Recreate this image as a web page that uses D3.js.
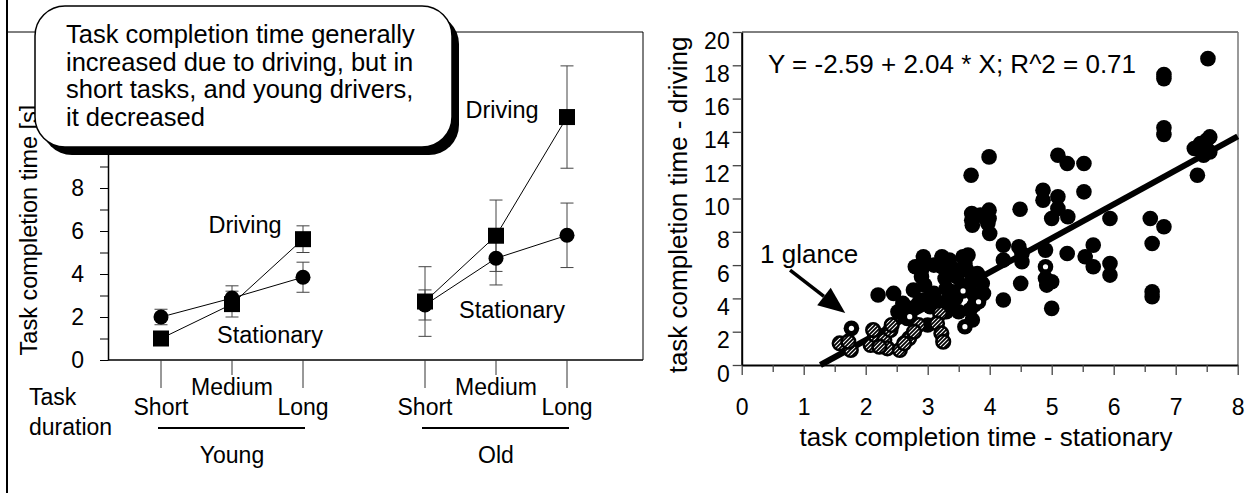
<!DOCTYPE html>
<html>
<head>
<meta charset="utf-8">
<script src="https://cdn.jsdelivr.net/npm/d3@7"></script>
<style>
body { margin: 0; background: #fff; }
text { font-family: "Liberation Sans", Arial, Helvetica, sans-serif; fill: #000; }
</style>
</head>
<body>
<svg id="chart" width="1253" height="493"></svg>
<script>
// ---- left chart: mean task completion time [s] and error bars ----
var ageGroups = ["Young", "Old"];
var durations = ["Short", "Medium", "Long"];
var youngDriving = [1.0, 2.6, 5.62];
var youngDrivingErr = [0.3, 0.6, 0.62];
var youngStationary = [2.0, 2.88, 3.85];
var youngStationaryErr = [0.36, 0.57, 0.7];
var oldDriving = [2.72, 5.78, 11.3];
var oldDrivingErr = [1.62, 1.66, 2.38];
var oldStationary = [2.56, 4.73, 5.8];
var oldStationaryErr = [0.7, 1.24, 1.5];
var leftYTicks = [0, 1, 2, 3, 4, 5, 6, 7, 8, 9, 10, 11, 12, 13, 14];
var leftYLabels = [0, 2, 4, 6, 8];   // higher labels sit under the callout

var calloutLines = ["Task completion time generally",
  "increased due to driving, but in",
  "short tasks, and young drivers,",
  "it decreased"];

// ---- right chart: driving vs stationary times ----
var rightXTicks = [0, 0.5, 1, 1.5, 2, 2.5, 3, 3.5, 4, 4.5, 5, 5.5, 6, 6.5, 7, 7.5, 8];
var rightYTicks = [0, 2, 4, 6, 8, 10, 12, 14, 16, 18, 20];
var regIntercept = -2.59, regSlope = 2.04;

var blackPts = [
  [2.2, 4.2], [2.45, 4.3], [2.52, 3.2], [2.67, 2.8], [2.77, 4.5], [2.85, 3.7], [2.93, 3.9],
  [2.6, 3.7], [2.75, 3.4], [2.8, 5.9],
  [2.93, 6.5], [2.93, 6.1], [2.9, 5.7], [2.9, 5.3], [2.95, 4.8], [3.04, 4.1], [3.04, 3.5], [3.0, 2.4],
  [3.1, 4.3], [3.15, 3.6], [3.1, 6.0], [3.35, 6.3], [3.4, 5.8], [3.4, 4.4], [3.5, 3.2],
  [3.23, 6.5], [3.23, 5.9], [3.28, 5.2], [3.3, 4.6], [3.35, 3.8],
  [3.47, 5.3], [3.57, 6.5], [3.63, 5.7], [3.55, 4.7], [3.6, 6.1], [3.45, 4.0],
  [3.7, 5.0], [3.65, 6.6], [3.75, 3.6], [3.9, 4.3], [3.3, 3.2],
  [3.68, 3.3], [3.72, 2.7], [3.8, 5.5], [3.88, 4.9], [3.75, 4.2],
  [3.72, 8.4], [3.97, 8.5], [4.0, 7.9], [4.22, 7.2], [4.22, 6.3],
  [3.71, 9.1], [3.99, 9.3], [3.71, 8.7], [3.99, 8.8], [3.85, 9.0],
  [3.7, 11.4], [3.99, 12.5],
  [4.22, 3.9], [4.5, 4.9], [4.52, 6.7], [4.52, 6.2], [4.47, 7.1], [4.49, 9.35],
  [4.9, 6.9], [4.9, 5.2], [5.0, 5.0], [4.92, 4.8], [5.0, 3.4],
  [5.25, 6.7], [5.54, 6.5], [5.67, 7.2], [5.67, 5.9], [5.94, 6.1], [5.94, 5.4],
  [4.86, 10.5], [4.86, 9.9], [5.1, 10.1], [5.1, 9.4], [5.26, 8.9], [5.0, 8.8],
  [5.52, 10.4], [5.52, 12.1], [5.1, 12.6], [5.25, 12.1],
  [5.94, 8.8], [6.59, 8.8], [6.81, 8.3], [6.62, 7.3], [6.62, 4.4], [6.62, 4.1],
  [6.81, 13.85], [6.81, 14.25], [6.81, 17.2], [6.81, 17.45], [7.52, 18.4],
  [7.35, 11.4], [7.3, 13.0], [7.4, 13.3], [7.5, 13.5], [7.55, 12.8], [7.45, 12.6], [7.55, 13.7]
];
// 1-glance tasks (hatched)
var glancePts = [
  [1.58, 1.3], [1.76, 0.9], [1.72, 1.4],
  [2.08, 1.2], [2.15, 1.8], [2.3, 1.5], [2.4, 2.1], [2.35, 1.0], [2.22, 1.1], [2.12, 2.1], [2.42, 2.4],
  [2.55, 0.9], [2.7, 1.6], [2.85, 2.4], [2.62, 1.3], [2.78, 2.0],
  [3.2, 3.1], [3.15, 2.5], [3.22, 1.9], [3.25, 1.4]
];
// 1-glance tasks mostly hidden under other points
var glanceCoveredPts = [[1.77, 2.2], [2.71, 2.9], [3.57, 4.45], [3.82, 3.8], [3.6, 2.3], [4.9, 5.9]];

var svg = d3.select("#chart");

// ---------------- left chart ----------------
var yL = d3.scaleLinear().domain([0, 15]).range([360, 37.5]);
var groupX = d3.scalePoint().domain(ageGroups).range([161, 425]);
var durX = d3.scalePoint().domain(durations).range([0, 142]);
function xL(g, i) { return groupX(g) + durX(durations[i]); }

// frame
svg.append("line").attr("x1", 7).attr("y1", 0).attr("x2", 7).attr("y2", 493)
  .attr("stroke", "#000").attr("stroke-width", 2);
svg.append("line").attr("x1", 7).attr("y1", 32).attr("x2", 643).attr("y2", 32)
  .attr("stroke", "#000").attr("stroke-width", 1);
svg.append("line").attr("x1", 643).attr("y1", 32).attr("x2", 643).attr("y2", 360)
  .attr("stroke", "#000").attr("stroke-width", 1);

// y axis
var yAxisL = svg.append("g")
  .attr("transform", "translate(108,0)")
  .call(d3.axisLeft(yL).tickValues(leftYTicks).tickSize(8).tickSizeOuter(0).tickPadding(16)
    .tickFormat(function(d) { return leftYLabels.indexOf(d) >= 0 ? d : ""; }));
yAxisL.attr("font-family", null).attr("font-size", 23);
yAxisL.select(".domain").attr("stroke-width", 1.5);

// x axis line
svg.append("line").attr("x1", 108).attr("y1", 360).attr("x2", 643).attr("y2", 360)
  .attr("stroke", "#000").attr("stroke-width", 1.5);

var leftSeries = [
  {g: "Young", kind: "driving", mean: youngDriving, err: youngDrivingErr},
  {g: "Young", kind: "stationary", mean: youngStationary, err: youngStationaryErr},
  {g: "Old", kind: "driving", mean: oldDriving, err: oldDrivingErr},
  {g: "Old", kind: "stationary", mean: oldStationary, err: oldStationaryErr}
];

// category ticks and labels
ageGroups.forEach(function(g) {
  durations.forEach(function(d, i) {
    var x = xL(g, i);
    svg.append("line").attr("x1", x).attr("x2", x).attr("y1", 360)
      .attr("y2", d === "Medium" ? 375 : 388).attr("stroke", "#333").attr("stroke-width", 1);
    svg.append("text").attr("x", x).attr("y", d === "Medium" ? 395 : 415)
      .attr("text-anchor", "middle").attr("font-size", 23).text(d);
  });
  svg.append("line").attr("x1", xL(g, 0) - 3).attr("x2", xL(g, 2) + 2)
    .attr("y1", 428).attr("y2", 428).attr("stroke", "#000").attr("stroke-width", 2);
  svg.append("text").attr("x", (xL(g, 0) + xL(g, 2)) / 2).attr("y", 463)
    .attr("text-anchor", "middle").attr("font-size", 23).text(g);
});
svg.append("text").attr("x", 29).attr("y", 405).attr("font-size", 23).text("Task");
svg.append("text").attr("x", 29).attr("y", 435).attr("font-size", 23).text("duration");

// error bars
leftSeries.forEach(function(s) {
  s.mean.forEach(function(m, i) {
    var x = xL(s.g, i);
    var e = s.err[i];
    var eg = svg.append("g").attr("stroke", "#444").attr("stroke-width", 1);
    eg.append("line").attr("x1", x).attr("x2", x).attr("y1", yL(m - e)).attr("y2", yL(m + e));
    eg.append("line").attr("x1", x - 6.5).attr("x2", x + 6.5).attr("y1", yL(m - e)).attr("y2", yL(m - e));
    eg.append("line").attr("x1", x - 6.5).attr("x2", x + 6.5).attr("y1", yL(m + e)).attr("y2", yL(m + e));
  });
});

// connecting lines
var lineL = d3.line().x(function(d) { return d.x; }).y(function(d) { return d.y; });
leftSeries.forEach(function(s) {
  var pts = s.mean.map(function(m, i) { return {x: xL(s.g, i), y: yL(m)}; });
  svg.append("path").datum(pts).attr("d", lineL).attr("fill", "none")
    .attr("stroke", "#000").attr("stroke-width", 1);
});

// markers
leftSeries.forEach(function(s) {
  s.mean.forEach(function(m, i) {
    var x = xL(s.g, i), y = yL(m);
    if (s.kind === "driving") {
      svg.append("rect").attr("x", x - 8).attr("y", y - 8).attr("width", 16).attr("height", 16).attr("fill", "#000");
    } else {
      svg.append("circle").attr("cx", x).attr("cy", y).attr("r", 7.5).attr("fill", "#000");
    }
  });
});

// series labels
svg.append("text").attr("x", 245).attr("y", 233).attr("text-anchor", "middle").attr("font-size", 23.5).text("Driving");
svg.append("text").attr("x", 270).attr("y", 343).attr("text-anchor", "middle").attr("font-size", 23.5).text("Stationary");
svg.append("text").attr("x", 502).attr("y", 118).attr("text-anchor", "middle").attr("font-size", 23.5).text("Driving");
svg.append("text").attr("x", 512).attr("y", 318).attr("text-anchor", "middle").attr("font-size", 23.5).text("Stationary");

// y axis title
svg.append("text").attr("transform", "translate(37,230) rotate(-90)")
  .attr("text-anchor", "middle").attr("font-size", 23.5).text("Task completion time [s]");

// callout box
var callout = svg.append("g");
callout.append("rect").attr("x", 42).attr("y", 14).attr("width", 417).attr("height", 141)
  .attr("rx", 30).attr("fill", "#000");
callout.append("rect").attr("x", 35).attr("y", 6).attr("width", 417).attr("height", 141)
  .attr("rx", 30).attr("fill", "#fff").attr("stroke", "#000").attr("stroke-width", 1.5);
callout.selectAll("text.cl").data(calloutLines).enter().append("text")
  .attr("class", "cl").attr("x", 66).attr("y", function(d, i) { return 43 + i * 27.5; })
  .attr("font-size", 25.5).text(function(d) { return d; });

// ---------------- right chart ----------------
var xR = d3.scaleLinear().domain([0, 8]).range([741.7, 1237.7]);
var yR = d3.scaleLinear().domain([0, 20]).range([365, 32]);

var defs = svg.append("defs");
var pat = defs.append("pattern").attr("id", "hatch").attr("patternUnits", "userSpaceOnUse")
  .attr("width", 4).attr("height", 4);
pat.append("rect").attr("width", 4).attr("height", 4).attr("fill", "#fff");
pat.append("path").attr("d", "M-1,1 l2,-2 M0,4 l4,-4 M3,5 l2,-2")
  .attr("stroke", "#000").attr("stroke-width", 1.8);

// frame
svg.append("line").attr("x1", 742).attr("y1", 32).attr("x2", 1238).attr("y2", 32)
  .attr("stroke", "#000").attr("stroke-width", 1);
svg.append("line").attr("x1", 1238).attr("y1", 32).attr("x2", 1238).attr("y2", 365)
  .attr("stroke", "#777").attr("stroke-width", 1.5);

var xAxisR = svg.append("g").attr("transform", "translate(0,365)")
  .call(d3.axisBottom(xR).tickValues(rightXTicks).tickSize(10).tickSizeOuter(0)
    .tickFormat(function(d) { return Number.isInteger(d) ? d : ""; }));
xAxisR.attr("font-family", null).attr("font-size", 23);
xAxisR.select(".domain").attr("stroke-width", 2);
xAxisR.selectAll(".tick line").attr("stroke", "#444").attr("stroke-width", 1.3)
  .attr("y2", function(d) { return Number.isInteger(d) ? 10 : 7; });
xAxisR.selectAll(".tick text").attr("y", 50).attr("dy", 0);

var yAxisR = svg.append("g").attr("transform", "translate(741.7,0)")
  .call(d3.axisLeft(yR).tickValues(rightYTicks).tickSize(9).tickSizeOuter(0).tickPadding(3));
yAxisR.attr("font-family", null).attr("font-size", 23);
yAxisR.select(".domain").attr("stroke-width", 2);
yAxisR.selectAll(".tick line").attr("stroke", "#444").attr("stroke-width", 1.3);
yAxisR.selectAll(".tick text").attr("dy", 16);

svg.append("text").attr("x", 986).attr("y", 446).attr("text-anchor", "middle")
  .attr("font-size", 26).text("task completion time - stationary");
svg.append("text").attr("transform", "translate(687,205) rotate(-90)")
  .attr("text-anchor", "middle").attr("font-size", 26).text("task completion time - driving");
svg.append("text").attr("x", 768).attr("y", 73).attr("font-size", 26)
  .text("Y = " + regIntercept + " + " + regSlope + " * X; R^2 = 0.71");

// regression line
var x0 = -regIntercept / regSlope;
svg.append("line").attr("x1", xR(x0)).attr("y1", yR(0))
  .attr("x2", xR(8)).attr("y2", yR(regIntercept + regSlope * 8))
  .attr("stroke", "#000").attr("stroke-width", 6);

// points
svg.append("g").selectAll("circle").data(blackPts).enter().append("circle")
  .attr("cx", function(d) { return xR(d[0]); }).attr("cy", function(d) { return yR(d[1]); })
  .attr("r", 7.8).attr("fill", "#000");
var cov = svg.append("g").selectAll("g").data(glanceCoveredPts).enter().append("g");
cov.append("circle").attr("cx", function(d) { return xR(d[0]); }).attr("cy", function(d) { return yR(d[1]); })
  .attr("r", 7.8).attr("fill", "#000");
cov.append("circle").attr("cx", function(d) { return xR(d[0]); }).attr("cy", function(d) { return yR(d[1]); })
  .attr("r", 2.6).attr("fill", "#fff");
svg.append("g").selectAll("circle").data(glancePts).enter().append("circle")
  .attr("cx", function(d) { return xR(d[0]); }).attr("cy", function(d) { return yR(d[1]); })
  .attr("r", 6.8).attr("fill", "url(#hatch)").attr("stroke", "#000").attr("stroke-width", 2.6);

// "1 glance" annotation with arrow
svg.append("text").attr("x", 760).attr("y", 263).attr("font-size", 26).text("1 glance");
var ax1 = xR(0.78), ay1 = yR(5.7), ax2 = xR(1.67), ay2 = yR(3.12);
var ang = Math.atan2(ay2 - ay1, ax2 - ax1);
var hl = 27, hw = 11;
var bx = ax2 - hl * Math.cos(ang), by = ay2 - hl * Math.sin(ang);
svg.append("line").attr("x1", ax1).attr("y1", ay1).attr("x2", bx).attr("y2", by)
  .attr("stroke", "#000").attr("stroke-width", 3.5);
svg.append("path").attr("fill", "#000").attr("d",
  "M" + ax2 + "," + ay2 +
  "L" + (bx + hw * Math.sin(ang)) + "," + (by - hw * Math.cos(ang)) +
  "L" + (bx - hw * Math.sin(ang)) + "," + (by + hw * Math.cos(ang)) + "Z");
</script>
</body>
</html>
